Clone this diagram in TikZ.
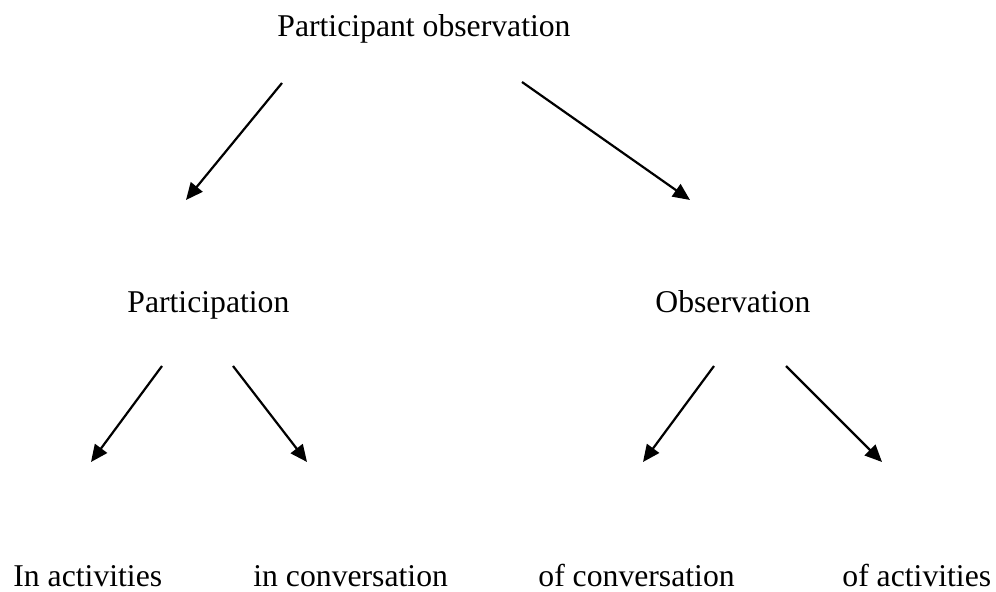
\documentclass[tikz,border=0pt]{standalone}
\usepackage{fontspec}
\setmainfont{Liberation Serif}
\usetikzlibrary{arrows.meta}

\tikzset{
    label/.style={anchor=base west,inner sep=0pt,font=\fontsize{15.85}{19}\selectfont},
    branch/.style={line width=1.1pt,-{Triangle[length=8.5pt,width=7.5pt]}}
}

\begin{document}
\begin{tikzpicture}[x=0.5pt,y=-0.5pt]
    \useasboundingbox (0,0) rectangle (996,592);

    % Labels
    \node[label] (top) at (277,37) {Participant observation};
    \node[label] (part) at (127,313) {Participation};
    \node[label] (obs) at (655,313) {Observation};
    \node[label] (inact) at (13,587) {In activities};
    \node[label] (inconv) at (253,587) {in conversation};
    \node[label] (ofconv) at (538,587) {of conversation};
    \node[label] (ofact) at (842,587) {of activities};

    % Arrow ends
    \coordinate (top-l) at (282,83);
    \coordinate (top-r) at (522,82);
    \coordinate (part-in) at (186,200);
    \coordinate (obs-in) at (690,200);
    \coordinate (part-l) at (162,366);
    \coordinate (part-r) at (233,366);
    \coordinate (obs-l) at (714,366);
    \coordinate (obs-r) at (786,366);
    \coordinate (inact-in) at (91,462);
    \coordinate (inconv-in) at (307,462);
    \coordinate (ofconv-in) at (643,462);
    \coordinate (ofact-in) at (882,462);

    % Arrows
    \draw[branch] (top-l) -- (part-in);
    \draw[branch] (top-r) -- (obs-in);
    \draw[branch] (part-l) -- (inact-in);
    \draw[branch] (part-r) -- (inconv-in);
    \draw[branch] (obs-l) -- (ofconv-in);
    \draw[branch] (obs-r) -- (ofact-in);
\end{tikzpicture}
\end{document}
